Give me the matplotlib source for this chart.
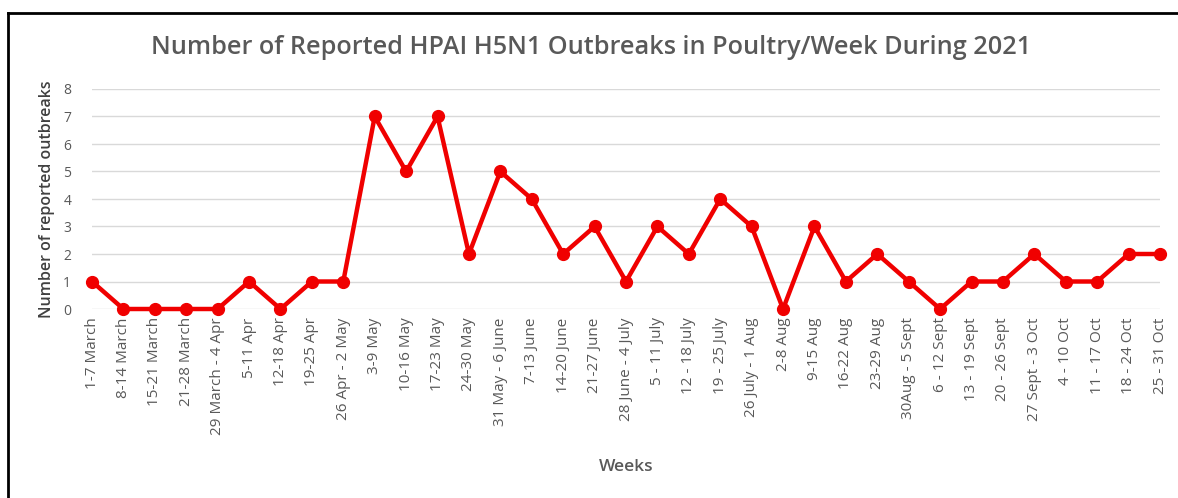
import matplotlib
matplotlib.use("Agg")
import matplotlib.pyplot as plt
from matplotlib.lines import Line2D

weeks = ["1-7 March", "8-14 March", "15-21 March", "21-28 March", "29 March - 4 Apr",
         "5-11 Apr", "12-18 Apr", "19-25 Apr", "26 Apr - 2 May", "3-9 May",
         "10-16 May", "17-23 May", "24-30 May", "31 May - 6 June", "7-13 June",
         "14-20 June", "21-27 June", "28 June - 4 July", "5 - 11 July", "12 - 18 July",
         "19 - 25 July", "26 July - 1 Aug", "2-8 Aug", "9-15 Aug", "16-22 Aug",
         "23-29 Aug", "30Aug - 5 Sept", "6 - 12 Sept", "13 - 19 Sept", "20 - 26 Sept",
         "27 Sept - 3 Oct", "4 - 10 Oct", "11 - 17 Oct", "18 - 24 Oct", "25 - 31 Oct"]
outbreaks = [1, 0, 0, 0, 0, 1, 0, 1, 1, 7, 5, 7, 2, 5, 4, 2, 3, 1, 3, 2, 4, 3, 0, 3,
             1, 2, 1, 0, 1, 1, 2, 1, 1, 2, 2]
y_ticks = [0, 1, 2, 3, 4, 5, 6, 7, 8]

plt.rcParams['font.family'] = ['Open Sans', 'DejaVu Sans']

W, H = 1178, 498
fig = plt.figure(figsize=(W / 100, H / 100), dpi=100)
ax = fig.add_axes([92 / W, 1 - 309 / H, (1160 - 92) / W, (309 - 89) / H])

x = list(range(len(weeks)))
ax.plot(x, outbreaks, color='#F00000', lw=3.2, marker='o', ms=8.5,
        markerfacecolor='#F00000', markeredgecolor='#F00000', zorder=3, clip_on=False)

ax.set_xlim(0, len(weeks) - 1)
ax.set_ylim(0, 8)
ax.set_yticks(y_ticks)
ax.set_xticks(x)
ax.set_xticklabels(weeks, rotation=90, fontsize=11, color='#595959')
ax.tick_params(axis='y', labelsize=10, colors='#595959', length=0, pad=15)
ax.tick_params(axis='x', length=0, pad=6)
ax.grid(axis='y', color='#d9d9d9', lw=1)
ax.set_axisbelow(True)
for s in ax.spines.values():
    s.set_visible(False)

ax.set_ylabel("Number of reported outbreaks", fontsize=11.5, color='#404040',
              fontweight='semibold', labelpad=6)
fig.text(626 / W, 1 - 467 / H, "Weeks", ha='center', va='center', fontsize=12.5,
         color='#595959', fontweight='semibold')
fig.text(591 / W, 1 - 47 / H, "Number of Reported HPAI H5N1 Outbreaks in Poultry/Week During 2021",
         ha='center', va='center', fontsize=18.2, color='#595959', fontweight='semibold')

# outer border (top and left edges)
fig.add_artist(Line2D([8 / W, 1], [1 - 13 / H, 1 - 13 / H], color='black', lw=2,
                      transform=fig.transFigure))
fig.add_artist(Line2D([8 / W, 8 / W], [0, 1 - 13 / H], color='black', lw=2,
                      transform=fig.transFigure))

fig.savefig("out.png", dpi=100)
